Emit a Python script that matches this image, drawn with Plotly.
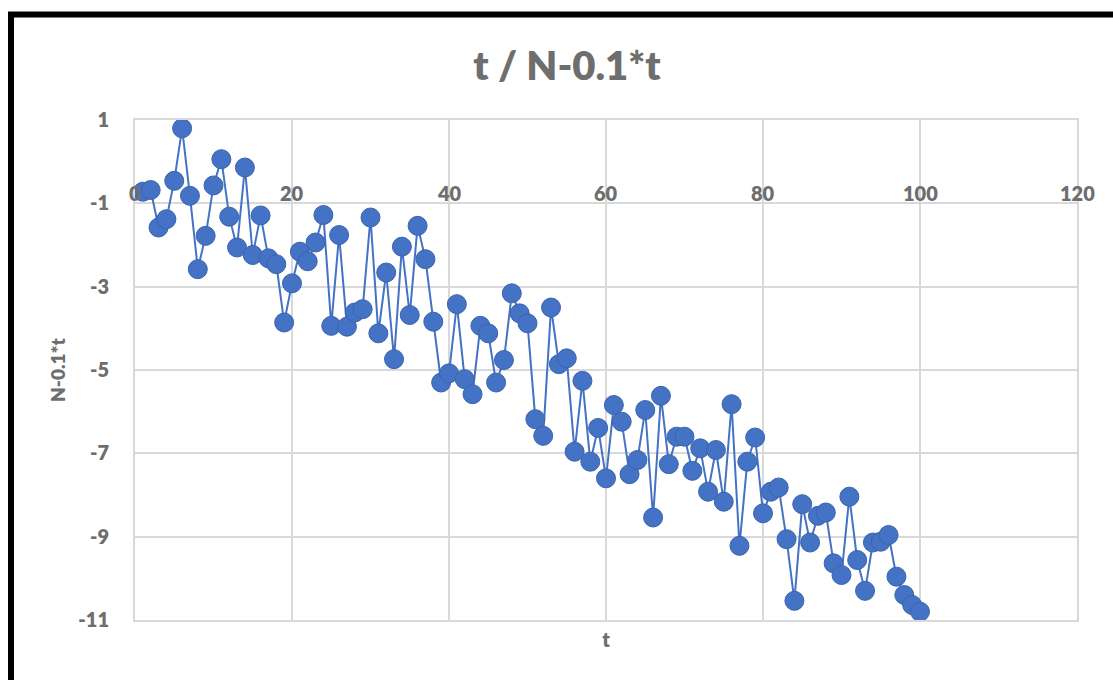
import plotly.graph_objects as go

# ---- data ----
t_values = list(range(1, 101))
n_values = [
    -0.72, -0.68, -1.58, -1.38, -0.46, 0.80, -0.82, -2.58, -1.78, -0.57,
    0.06, -1.32, -2.06, -0.14, -2.24, -1.29, -2.32, -2.46, -3.86, -2.92,
    -2.16, -2.39, -1.94, -1.28, -3.94, -1.76, -3.96, -3.62, -3.54, -1.34,
    -4.12, -2.66, -4.74, -2.04, -3.68, -1.54, -2.34, -3.84, -5.30, -5.08,
    -3.42, -5.22, -5.58, -3.94, -4.12, -5.30, -4.76, -3.16, -3.64, -3.88,
    -6.18, -6.58, -3.50, -4.86, -4.72, -6.96, -5.26, -7.20, -6.39, -7.60,
    -5.84, -6.24, -7.50, -7.16, -5.96, -8.54, -5.62, -7.26, -6.60, -6.60,
    -7.42, -6.88, -7.92, -6.92, -8.16, -5.82, -9.22, -7.20, -6.62, -8.44,
    -7.92, -7.82, -9.06, -10.54, -8.22, -9.14, -8.50, -8.42, -9.64, -9.92,
    -8.04, -9.56, -10.30, -9.14, -9.12, -8.96, -9.96, -10.40, -10.64, -10.80,
]
x_ticks = [0, 20, 40, 60, 80, 100, 120]
y_ticks = [1, -1, -3, -5, -7, -9, -11]
title_text = "t / N-0.1*t"
x_title = "t"
y_title = "N-0.1*t"

# ---- style ----
W, H = 1113, 680
ML, MR, MT, MB = 135, 36, 120, 60
PW, PH = W - ML - MR, H - MT - MB
FONT = "Lato"
GRAY = "#6e6e6e"
GRID = "#d9d9d9"
BLUE = "#4472C4"


def f(size):
    return dict(family=FONT, size=size, color=GRAY, weight=800)


fig = go.Figure()
fig.add_trace(go.Scatter(
    x=t_values, y=n_values, mode="lines+markers",
    line=dict(color=BLUE, width=2),
    marker=dict(size=19, color=BLUE, line=dict(color="#3b64ad", width=1)),
    showlegend=False, cliponaxis=False,
))

annotations = []
for v in x_ticks:
    annotations.append(dict(
        x=v, y=0, xref="x", yref="y", text=str(v), showarrow=False,
        yshift=-31, font=f(20),
    ))

fig.update_layout(
    width=W, height=H,
    margin=dict(l=ML, r=MR, t=MT, b=MB),
    paper_bgcolor="white", plot_bgcolor="white",
    title=dict(text=title_text, x=(567 - ML) / PW, xref="paper",
               xanchor="center", y=1 - 66 / H, yref="container", yanchor="middle",
               font=f(40)),
    xaxis=dict(range=[0, 120], tickvals=x_ticks, showticklabels=False,
               showgrid=True, gridcolor=GRID, gridwidth=2, zeroline=False,
               showline=True, linecolor=GRID, linewidth=2, mirror=True,
               title=dict(text=x_title, standoff=12, font=f(20))),
    yaxis=dict(range=[-11, 1], tickvals=y_ticks, ticktext=[str(v) for v in y_ticks],
               showgrid=True, gridcolor=GRID, gridwidth=2, zeroline=False,
               showline=True, linecolor=GRID, linewidth=2, mirror=True,
               ticklabelstandoff=20,
               tickfont=f(20),
               title=dict(text=y_title, standoff=8, font=f(19))),
    annotations=annotations,
    shapes=[dict(type="rect", xref="paper", yref="paper",
                 x0=(11 - ML) / PW, x1=(W + 20 - ML) / PW,
                 y0=(MT + PH - (H + 20)) / PH, y1=(MT + PH - 14.5) / PH,
                 line=dict(color="black", width=6), layer="above")],
)

fig.write_html("out.html")
